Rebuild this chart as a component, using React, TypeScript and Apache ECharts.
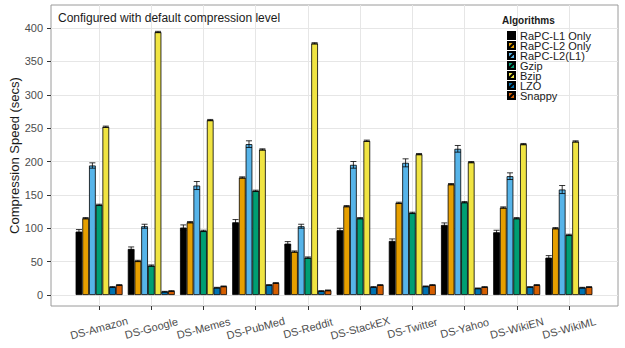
import React, { useEffect, useRef } from 'react';
import * as echarts from 'echarts';

// Datasets on the x axis
const categories = [
  'DS-Amazon', 'DS-Google', 'DS-Memes', 'DS-PubMed', 'DS-Reddit',
  'DS-StackEX', 'DS-Twitter', 'DS-Yahoo', 'DS-WikiEN', 'DS-WikiML',
];

// Compression algorithms (legend order) and their fill colours
const algorithms = ['RaPC-L1 Only', 'RaPC-L2 Only', 'RaPC-L2(L1)', 'Gzip', 'Bzip', 'LZO', 'Snappy'];
const colors = ['#000000', '#E69F00', '#56B4E9', '#009E73', '#F0E442', '#0072B2', '#D55E00'];

// Mean compression time (secs) per dataset
const rapcL1Only = [95, 69, 101, 109, 77, 97, 81, 105, 94, 56];
const rapcL2Only = [115, 51, 109, 176, 65, 133, 138, 166, 131, 100];
const rapcL2L1 = [194, 103, 164, 226, 103, 195, 198, 219, 178, 158];
const gzip = [135, 44, 96, 156, 56, 115, 123, 139, 115, 90];
const bzip = [252, 394, 262, 218, 377, 231, 211, 199, 226, 230];
const lzo = [12, 5, 11, 15, 6, 12, 13, 10, 12, 11];
const snappy = [15, 6, 13, 18, 7, 15, 15, 12, 15, 12];

// Standard error per dataset
const rapcL1OnlyErr = [3, 3, 4, 4, 3, 3, 3, 3, 3, 3];
const rapcL2OnlyErr = [1, 1, 1, 1, 1, 1, 1, 1, 1, 1];
const rapcL2L1Err = [4, 3, 6, 5, 3, 5, 6, 5, 5, 6];
const gzipErr = [1, 1, 1, 1, 1, 1, 1, 1, 1, 1];
const bzipErr = [1, 1, 1, 1, 1, 1, 1, 1, 1, 1];
const lzoErr = [0.5, 0.5, 0.5, 0.5, 0.5, 0.5, 0.5, 0.5, 0.5, 0.5];
const snappyErr = [0.5, 0.5, 0.5, 0.5, 0.5, 0.5, 0.5, 0.5, 0.5, 0.5];

const seriesValues = [rapcL1Only, rapcL2Only, rapcL2L1, gzip, bzip, lzo, snappy];
const seriesErrors = [rapcL1OnlyErr, rapcL2OnlyErr, rapcL2L1Err, gzipErr, bzipErr, lzoErr, snappyErr];

// Value axis
const yMin = 0;
const yMax = 400;
const yInterval = 50;

const FONT = '"Liberation Sans", Arial, Helvetica, sans-serif';
const GRID_LINE = '#e6e6e6';

export default function App() {
  const ref = useRef<HTMLDivElement>(null);

  useEffect(() => {
    if (!ref.current) return;
    const chart = echarts.init(ref.current, undefined, { renderer: 'svg' });

    const barSeries = algorithms.map((name, i) => ({
      name,
      type: 'bar',
      xAxisIndex: 2,
      yAxisIndex: 2,
      data: seriesValues[i],
      barGap: '0%',
      barCategoryGap: '10%',
      itemStyle: { color: colors[i], borderColor: '#000', borderWidth: 0.8 },
      emphasis: { disabled: true },
      z: 3,
    }));

    const errorData: number[][] = [];
    seriesValues.forEach((vals, s) => {
      vals.forEach((v, c) => errorData.push([c, v, seriesErrors[s][c], s]));
    });

    const option: any = {
      animation: false,
      textStyle: { fontFamily: FONT },
      title: [
        {
          text: 'Configured with default compression level',
          left: 58,
          top: 12,
          padding: 0,
          textStyle: { fontSize: 12, fontWeight: 'normal', color: '#1a1a1a', fontFamily: FONT },
        },
        {
          text: 'Algorithms',
          left: 502,
          top: 15,
          padding: 0,
          textStyle: { fontSize: 10, fontWeight: 'bold', color: '#1a1a1a', fontFamily: FONT },
        },
      ],
      legend: {
        data: algorithms,
        orient: 'vertical',
        left: 507,
        top: 30,
        padding: 0,
        itemGap: -1,
        itemWidth: 7,
        itemHeight: 8,
        icon: 'path://M0,0H10V10H0ZM0,10L10,0',
        selectedMode: false,
        textStyle: { fontSize: 11, lineHeight: 10, color: '#1a1a1a', fontFamily: FONT },
      },
      grid: [
        // panel frame
        { left: 51, right: 7, top: 5, bottom: 42, show: true, backgroundColor: '#fff', borderColor: '#9a9a9a', borderWidth: 1 },
        // horizontal grid + value labels
        { left: 51, right: 7, top: 28, bottom: 53 },
        // bars
        { left: 73, right: 30, top: 28, bottom: 53 },
        // category ticks, labels and vertical grid
        { left: 99, right: 56, top: 5, bottom: 42 },
      ],
      xAxis: [
        { gridIndex: 0, type: 'value', min: 0, max: 1, show: false },
        { gridIndex: 1, type: 'value', min: 0, max: 1, show: false },
        { gridIndex: 2, type: 'category', data: categories, show: false },
        {
          gridIndex: 3,
          type: 'category',
          data: categories,
          boundaryGap: false,
          axisLine: { show: false },
          axisTick: { show: true, length: 4, lineStyle: { color: '#333', width: 1 } },
          splitLine: { show: true, lineStyle: { color: GRID_LINE, width: 1 } },
          axisLabel: {
            interval: 0,
            rotate: 15,
            align: 'center',
            verticalAlign: 'middle',
            margin: 22,
            fontSize: 11,
            color: '#4d4d4d',
            fontFamily: FONT,
          },
        },
      ],
      yAxis: [
        {
          gridIndex: 0,
          type: 'value',
          min: 0,
          max: 1,
          name: 'Compression Speed (secs)',
          nameLocation: 'middle',
          nameGap: 30,
          nameTextStyle: { fontSize: 13, color: '#1a1a1a', fontFamily: FONT },
          axisLine: { show: false },
          axisTick: { show: false },
          axisLabel: { show: false },
          splitLine: { show: false },
        },
        {
          gridIndex: 1,
          type: 'value',
          min: yMin,
          max: yMax,
          interval: yInterval,
          axisLine: { show: false },
          axisTick: { show: true, length: 4, lineStyle: { color: '#333', width: 1 } },
          axisLabel: { fontSize: 11, color: '#4d4d4d', margin: 8, fontFamily: FONT },
          splitLine: { show: true, lineStyle: { color: GRID_LINE, width: 1 } },
        },
        { gridIndex: 2, type: 'value', min: yMin, max: yMax, show: false },
        { gridIndex: 3, type: 'value', min: 0, max: 1, show: false },
      ],
      series: [
        ...barSeries,
        {
          type: 'custom',
          xAxisIndex: 2,
          yAxisIndex: 2,
          data: errorData,
          encode: { x: 0, y: 1 },
          z: 4,
          silent: true,
          renderItem: (params: any, api: any) => {
            const cat = api.value(0);
            const val = api.value(1);
            const err = api.value(2);
            const s = api.value(3);
            const band = api.size([1, 0])[0];
            const barW = (band * 0.9) / algorithms.length;
            const base = api.coord([cat, val]);
            const x = base[0] - band * 0.45 + barW * (s + 0.5);
            const yHi = api.coord([cat, val + err])[1];
            const yLo = api.coord([cat, val - err])[1];
            const hw = barW * 0.45;
            const st = { stroke: '#000', lineWidth: 0.8 };
            return {
              type: 'group',
              children: [
                { type: 'line', shape: { x1: x, y1: yHi, x2: x, y2: yLo }, style: st },
                { type: 'line', shape: { x1: x - hw, y1: yHi, x2: x + hw, y2: yHi }, style: st },
                { type: 'line', shape: { x1: x - hw, y1: yLo, x2: x + hw, y2: yLo }, style: st },
              ],
            };
          },
        },
      ],
    };

    chart.setOption(option);
    return () => chart.dispose();
  }, []);

  return (
    <div
      ref={ref}
      style={{ position: 'fixed', left: 0, top: 0, width: 625, height: 348, background: '#fff' }}
    />
  );
}
